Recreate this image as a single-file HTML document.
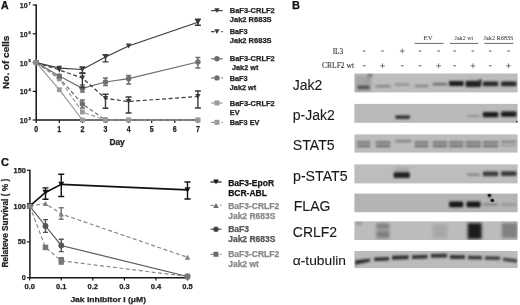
<!DOCTYPE html><html><head><meta charset="utf-8"><style>html,body{margin:0;padding:0;background:#fff;}svg{display:block;filter:grayscale(1);}</style></head><body>
<svg width="520" height="305" viewBox="0 0 520 305">
<rect width="520" height="305" fill="#fff"/>
<text x="1" y="9.2" font-size="10.5" font-weight="bold" fill="#111" text-anchor="start" font-family='"Liberation Sans", sans-serif' stroke="#111" stroke-width="0.25" >A</text>
<path d="M36.2,4.4 V120.0" stroke="#151515" stroke-width="1.5"/>
<path d="M32.7,5.0 H36.2" stroke="#151515" stroke-width="1.2"/>
<text x="27.6" y="7.9" font-size="8" font-weight="bold" fill="#222" text-anchor="end" font-family='"Liberation Sans", sans-serif' stroke="#222" stroke-width="0.25" textLength="7.8" lengthAdjust="spacingAndGlyphs" >10</text>
<text x="28.5" y="4.7" font-size="4.4" font-weight="bold" fill="#222" text-anchor="start" font-family='"Liberation Sans", sans-serif' stroke="#222" stroke-width="0.25" textLength="2.3" lengthAdjust="spacingAndGlyphs" >7</text>
<path d="M32.7,33.8 H36.2" stroke="#151515" stroke-width="1.2"/>
<text x="27.6" y="36.699999999999996" font-size="8" font-weight="bold" fill="#222" text-anchor="end" font-family='"Liberation Sans", sans-serif' stroke="#222" stroke-width="0.25" textLength="7.8" lengthAdjust="spacingAndGlyphs" >10</text>
<text x="28.5" y="33.5" font-size="4.4" font-weight="bold" fill="#222" text-anchor="start" font-family='"Liberation Sans", sans-serif' stroke="#222" stroke-width="0.25" textLength="2.3" lengthAdjust="spacingAndGlyphs" >6</text>
<path d="M32.7,62.6 H36.2" stroke="#151515" stroke-width="1.2"/>
<text x="27.6" y="65.5" font-size="8" font-weight="bold" fill="#222" text-anchor="end" font-family='"Liberation Sans", sans-serif' stroke="#222" stroke-width="0.25" textLength="7.8" lengthAdjust="spacingAndGlyphs" >10</text>
<text x="28.5" y="62.300000000000004" font-size="4.4" font-weight="bold" fill="#222" text-anchor="start" font-family='"Liberation Sans", sans-serif' stroke="#222" stroke-width="0.25" textLength="2.3" lengthAdjust="spacingAndGlyphs" >5</text>
<path d="M32.7,91.4 H36.2" stroke="#151515" stroke-width="1.2"/>
<text x="27.6" y="94.30000000000001" font-size="8" font-weight="bold" fill="#222" text-anchor="end" font-family='"Liberation Sans", sans-serif' stroke="#222" stroke-width="0.25" textLength="7.8" lengthAdjust="spacingAndGlyphs" >10</text>
<text x="28.5" y="91.10000000000001" font-size="4.4" font-weight="bold" fill="#222" text-anchor="start" font-family='"Liberation Sans", sans-serif' stroke="#222" stroke-width="0.25" textLength="2.3" lengthAdjust="spacingAndGlyphs" >4</text>
<path d="M32.7,120.0 H36.2" stroke="#151515" stroke-width="1.2"/>
<text x="27.6" y="122.9" font-size="8" font-weight="bold" fill="#222" text-anchor="end" font-family='"Liberation Sans", sans-serif' stroke="#222" stroke-width="0.25" textLength="7.8" lengthAdjust="spacingAndGlyphs" >10</text>
<text x="28.5" y="119.7" font-size="4.4" font-weight="bold" fill="#222" text-anchor="start" font-family='"Liberation Sans", sans-serif' stroke="#222" stroke-width="0.25" textLength="2.3" lengthAdjust="spacingAndGlyphs" >3</text>
<path d="M36.2,120.0 H198.90000000000003" stroke="#151515" stroke-width="1.5"/>
<path d="M36.20,120.0 V123.0" stroke="#151515" stroke-width="1.2"/>
<text x="36.2" y="132.3" font-size="8.6" font-weight="bold" fill="#222" text-anchor="middle" font-family='"Liberation Sans", sans-serif' stroke="#222" stroke-width="0.25" textLength="3.9" lengthAdjust="spacingAndGlyphs" >0</text>
<path d="M59.30,120.0 V123.0" stroke="#151515" stroke-width="1.2"/>
<text x="59.300000000000004" y="132.3" font-size="8.6" font-weight="bold" fill="#222" text-anchor="middle" font-family='"Liberation Sans", sans-serif' stroke="#222" stroke-width="0.25" textLength="3.9" lengthAdjust="spacingAndGlyphs" >1</text>
<path d="M82.40,120.0 V123.0" stroke="#151515" stroke-width="1.2"/>
<text x="82.4" y="132.3" font-size="8.6" font-weight="bold" fill="#222" text-anchor="middle" font-family='"Liberation Sans", sans-serif' stroke="#222" stroke-width="0.25" textLength="3.9" lengthAdjust="spacingAndGlyphs" >2</text>
<path d="M105.50,120.0 V123.0" stroke="#151515" stroke-width="1.2"/>
<text x="105.50000000000001" y="132.3" font-size="8.6" font-weight="bold" fill="#222" text-anchor="middle" font-family='"Liberation Sans", sans-serif' stroke="#222" stroke-width="0.25" textLength="3.9" lengthAdjust="spacingAndGlyphs" >3</text>
<path d="M128.60,120.0 V123.0" stroke="#151515" stroke-width="1.2"/>
<text x="128.60000000000002" y="132.3" font-size="8.6" font-weight="bold" fill="#222" text-anchor="middle" font-family='"Liberation Sans", sans-serif' stroke="#222" stroke-width="0.25" textLength="3.9" lengthAdjust="spacingAndGlyphs" >4</text>
<path d="M151.70,120.0 V123.0" stroke="#151515" stroke-width="1.2"/>
<text x="151.7" y="132.3" font-size="8.6" font-weight="bold" fill="#222" text-anchor="middle" font-family='"Liberation Sans", sans-serif' stroke="#222" stroke-width="0.25" textLength="3.9" lengthAdjust="spacingAndGlyphs" >5</text>
<path d="M174.80,120.0 V123.0" stroke="#151515" stroke-width="1.2"/>
<text x="174.8" y="132.3" font-size="8.6" font-weight="bold" fill="#222" text-anchor="middle" font-family='"Liberation Sans", sans-serif' stroke="#222" stroke-width="0.25" textLength="3.9" lengthAdjust="spacingAndGlyphs" >6</text>
<path d="M197.90,120.0 V123.0" stroke="#151515" stroke-width="1.2"/>
<text x="197.90000000000003" y="132.3" font-size="8.6" font-weight="bold" fill="#222" text-anchor="middle" font-family='"Liberation Sans", sans-serif' stroke="#222" stroke-width="0.25" textLength="3.9" lengthAdjust="spacingAndGlyphs" >7</text>
<text x="117.1" y="144.8" font-size="8.5" font-weight="bold" fill="#222" text-anchor="middle" font-family='"Liberation Sans", sans-serif' stroke="#222" stroke-width="0.25" textLength="15.4" lengthAdjust="spacingAndGlyphs" >Day</text>
<text x="0" y="0" font-size="9.5" font-weight="bold" fill="#222" text-anchor="start" font-family='"Liberation Sans", sans-serif' stroke="#222" stroke-width="0.25" textLength="53.2" lengthAdjust="spacingAndGlyphs" transform="translate(9.3,88.9) rotate(-90)">No. of cells</text>
<path d="M36.20,62.60 L59.30,78.00 L82.40,104.00 L105.50,120.00" fill="none" stroke="#6e6e6e" stroke-width="1.2" stroke-dasharray="4,2.5"/>
<path d="M82.40,100.00 V108.00 M79.90,100.00 H84.90 M79.90,108.00 H84.90" stroke="#6e6e6e" stroke-width="1.4" fill="none"/>
<circle cx="36.20" cy="62.60" r="2.75" fill="#6e6e6e"/>
<circle cx="59.30" cy="78.00" r="2.75" fill="#6e6e6e"/>
<circle cx="82.40" cy="104.00" r="2.75" fill="#6e6e6e"/>
<circle cx="105.50" cy="120.00" r="2.75" fill="#6e6e6e"/>
<path d="M36.20,62.60 L59.30,79.00 L82.40,112.00 L105.50,120.00 L128.60,120.00 L197.90,120.00" fill="none" stroke="#999999" stroke-width="1.2" stroke-dasharray="4,2.5"/>
<rect x="33.80" y="60.20" width="4.80" height="4.80" fill="#999999"/>
<rect x="56.90" y="76.60" width="4.80" height="4.80" fill="#999999"/>
<rect x="80.00" y="109.60" width="4.80" height="4.80" fill="#999999"/>
<rect x="103.10" y="117.60" width="4.80" height="4.80" fill="#999999"/>
<rect x="126.20" y="117.60" width="4.80" height="4.80" fill="#999999"/>
<rect x="195.50" y="117.60" width="4.80" height="4.80" fill="#999999"/>
<path d="M36.20,62.60 L59.30,89.70 L82.40,120.00 L105.50,120.00 L128.60,120.00 L197.90,120.00" fill="none" stroke="#999999" stroke-width="1.2"/>
<rect x="33.80" y="60.20" width="4.80" height="4.80" fill="#999999"/>
<rect x="56.90" y="87.30" width="4.80" height="4.80" fill="#999999"/>
<rect x="80.00" y="117.60" width="4.80" height="4.80" fill="#999999"/>
<rect x="103.10" y="117.60" width="4.80" height="4.80" fill="#999999"/>
<rect x="126.20" y="117.60" width="4.80" height="4.80" fill="#999999"/>
<rect x="195.50" y="117.60" width="4.80" height="4.80" fill="#999999"/>
<path d="M36.20,62.60 L59.30,76.00 L82.40,88.40 L105.50,82.00 L128.60,78.70 L197.90,62.00" fill="none" stroke="#6e6e6e" stroke-width="1.2"/>
<path d="M82.40,85.00 V92.00 M79.90,85.00 H84.90 M79.90,92.00 H84.90" stroke="#6e6e6e" stroke-width="1.4" fill="none"/>
<path d="M105.50,78.00 V85.50 M103.00,78.00 H108.00 M103.00,85.50 H108.00" stroke="#6e6e6e" stroke-width="1.4" fill="none"/>
<path d="M128.60,75.50 V84.00 M126.10,75.50 H131.10 M126.10,84.00 H131.10" stroke="#6e6e6e" stroke-width="1.4" fill="none"/>
<path d="M197.90,57.50 V68.00 M195.40,57.50 H200.40 M195.40,68.00 H200.40" stroke="#6e6e6e" stroke-width="1.4" fill="none"/>
<circle cx="36.20" cy="62.60" r="2.75" fill="#6e6e6e"/>
<circle cx="59.30" cy="76.00" r="2.75" fill="#6e6e6e"/>
<circle cx="82.40" cy="88.40" r="2.75" fill="#6e6e6e"/>
<circle cx="105.50" cy="82.00" r="2.75" fill="#6e6e6e"/>
<circle cx="128.60" cy="78.70" r="2.75" fill="#6e6e6e"/>
<circle cx="197.90" cy="62.00" r="2.75" fill="#6e6e6e"/>
<path d="M36.20,62.60 L59.30,70.00 L82.40,78.00 L105.50,98.50 L128.60,101.50 L197.90,96.50" fill="none" stroke="#3a3a3a" stroke-width="1.2" stroke-dasharray="4,2.5"/>
<path d="M82.40,73.00 V87.50 M79.40,73.00 H85.40 M79.40,87.50 H85.40" stroke="#3a3a3a" stroke-width="1.4" fill="none"/>
<path d="M105.50,94.20 V108.30 M102.50,94.20 H108.50 M102.50,108.30 H108.50" stroke="#3a3a3a" stroke-width="1.4" fill="none"/>
<path d="M128.60,97.00 V113.00 M125.60,97.00 H131.60 M125.60,113.00 H131.60" stroke="#3a3a3a" stroke-width="1.4" fill="none"/>
<path d="M197.90,91.00 V108.00 M194.90,91.00 H200.90 M194.90,108.00 H200.90" stroke="#3a3a3a" stroke-width="1.4" fill="none"/>
<path d="M33.50,60.17 L38.90,60.17 L36.20,65.03 Z" fill="#3a3a3a"/>
<path d="M56.60,67.57 L62.00,67.57 L59.30,72.43 Z" fill="#3a3a3a"/>
<path d="M79.70,75.57 L85.10,75.57 L82.40,80.43 Z" fill="#3a3a3a"/>
<path d="M102.80,96.07 L108.20,96.07 L105.50,100.93 Z" fill="#3a3a3a"/>
<path d="M125.90,99.07 L131.30,99.07 L128.60,103.93 Z" fill="#3a3a3a"/>
<path d="M195.20,94.07 L200.60,94.07 L197.90,98.93 Z" fill="#3a3a3a"/>
<path d="M36.20,62.60 L59.30,68.10 L82.40,69.50 L105.50,57.00 L128.60,46.00 L197.90,22.30" fill="none" stroke="#3a3a3a" stroke-width="1.2"/>
<path d="M82.40,67.00 V73.30 M79.40,67.00 H85.40 M79.40,73.30 H85.40" stroke="#3a3a3a" stroke-width="1.4" fill="none"/>
<path d="M105.50,54.70 V61.90 M102.50,54.70 H108.50 M102.50,61.90 H108.50" stroke="#3a3a3a" stroke-width="1.4" fill="none"/>
<path d="M197.90,19.20 V25.30 M194.90,19.20 H200.90 M194.90,25.30 H200.90" stroke="#3a3a3a" stroke-width="1.4" fill="none"/>
<path d="M33.50,60.17 L38.90,60.17 L36.20,65.03 Z" fill="#3a3a3a"/>
<path d="M56.60,65.67 L62.00,65.67 L59.30,70.53 Z" fill="#3a3a3a"/>
<path d="M79.70,67.07 L85.10,67.07 L82.40,71.93 Z" fill="#3a3a3a"/>
<path d="M102.80,54.57 L108.20,54.57 L105.50,59.43 Z" fill="#3a3a3a"/>
<path d="M125.90,43.57 L131.30,43.57 L128.60,48.43 Z" fill="#3a3a3a"/>
<path d="M195.20,19.87 L200.60,19.87 L197.90,24.73 Z" fill="#3a3a3a"/>
<rect x="33.60" y="60.00" width="5.20" height="5.20" fill="#8a8a8a"/>
<path d="M211.2,10.6 H222.7" stroke="#3a3a3a" stroke-width="1.2"/>
<path d="M214.35,8.26 L219.55,8.26 L216.95,12.94 Z" fill="#3a3a3a"/>
<text x="229.8" y="13.1" font-size="7.3" font-weight="bold" fill="#222" text-anchor="start" font-family='"Liberation Sans", sans-serif' stroke="#222" stroke-width="0.25" textLength="44.9" lengthAdjust="spacingAndGlyphs" >BaF3-CRLF2</text>
<text x="229.8" y="22.1" font-size="7.3" font-weight="bold" fill="#222" text-anchor="start" font-family='"Liberation Sans", sans-serif' stroke="#222" stroke-width="0.25" textLength="41.8" lengthAdjust="spacingAndGlyphs" >Jak2 R683S</text>
<path d="M211.2,31.6 H214.6 M221.29999999999998,31.6 H222.7" stroke="#3a3a3a" stroke-width="1.2"/>
<path d="M214.35,29.26 L219.55,29.26 L216.95,33.94 Z" fill="#3a3a3a"/>
<text x="229.8" y="33.5" font-size="7.3" font-weight="bold" fill="#222" text-anchor="start" font-family='"Liberation Sans", sans-serif' stroke="#222" stroke-width="0.25" >BaF3</text>
<text x="229.8" y="42.7" font-size="7.3" font-weight="bold" fill="#222" text-anchor="start" font-family='"Liberation Sans", sans-serif' stroke="#222" stroke-width="0.25" textLength="41.8" lengthAdjust="spacingAndGlyphs" >Jak2 R683S</text>
<path d="M211.2,58.8 H222.7" stroke="#6e6e6e" stroke-width="1.2"/>
<circle cx="216.95" cy="58.80" r="2.70" fill="#6e6e6e"/>
<text x="229.8" y="61.1" font-size="7.3" font-weight="bold" fill="#222" text-anchor="start" font-family='"Liberation Sans", sans-serif' stroke="#222" stroke-width="0.25" textLength="44.9" lengthAdjust="spacingAndGlyphs" >BaF3-CRLF2</text>
<text x="232.0" y="70.4" font-size="7.3" font-weight="bold" fill="#222" text-anchor="start" font-family='"Liberation Sans", sans-serif' stroke="#222" stroke-width="0.25" >Jak2 wt</text>
<path d="M211.2,77.9 H214.6 M221.29999999999998,77.9 H222.7" stroke="#6e6e6e" stroke-width="1.2"/>
<circle cx="216.95" cy="77.90" r="2.70" fill="#6e6e6e"/>
<text x="229.8" y="80.5" font-size="7.3" font-weight="bold" fill="#222" text-anchor="start" font-family='"Liberation Sans", sans-serif' stroke="#222" stroke-width="0.25" >BaF3</text>
<text x="229.8" y="89.8" font-size="7.3" font-weight="bold" fill="#222" text-anchor="start" font-family='"Liberation Sans", sans-serif' stroke="#222" stroke-width="0.25" >Jak2 wt</text>
<path d="M211.2,103 H222.7" stroke="#999999" stroke-width="1.2"/>
<rect x="214.45" y="100.50" width="5.00" height="5.00" fill="#999999"/>
<text x="229.8" y="105.6" font-size="7.3" font-weight="bold" fill="#222" text-anchor="start" font-family='"Liberation Sans", sans-serif' stroke="#222" stroke-width="0.25" textLength="44.9" lengthAdjust="spacingAndGlyphs" >BaF3-CRLF2</text>
<text x="229.8" y="115.1" font-size="7.3" font-weight="bold" fill="#222" text-anchor="start" font-family='"Liberation Sans", sans-serif' stroke="#222" stroke-width="0.25" >EV</text>
<path d="M211.2,122.3 H214.6 M221.29999999999998,122.3 H222.7" stroke="#999999" stroke-width="1.2"/>
<rect x="214.45" y="119.80" width="5.00" height="5.00" fill="#999999"/>
<text x="229.8" y="125.1" font-size="7.3" font-weight="bold" fill="#222" text-anchor="start" font-family='"Liberation Sans", sans-serif' stroke="#222" stroke-width="0.25" >BaF3 EV</text>
<text x="1" y="166.4" font-size="11" font-weight="bold" fill="#111" text-anchor="start" font-family='"Liberation Sans", sans-serif' stroke="#111" stroke-width="0.25" >C</text>
<path d="M29.9,169.64 V277.7" stroke="#151515" stroke-width="1.5"/>
<path d="M26.9,277.70 H29.9" stroke="#151515" stroke-width="1.2"/>
<text x="25.8" y="280.2" font-size="7.3" font-weight="bold" fill="#222" text-anchor="end" font-family='"Liberation Sans", sans-serif' stroke="#222" stroke-width="0.25" >0</text>
<path d="M26.9,241.88 H29.9" stroke="#151515" stroke-width="1.2"/>
<text x="25.8" y="244.38" font-size="7.3" font-weight="bold" fill="#222" text-anchor="end" font-family='"Liberation Sans", sans-serif' stroke="#222" stroke-width="0.25" >50</text>
<path d="M26.9,206.06 H29.9" stroke="#151515" stroke-width="1.2"/>
<text x="25.8" y="208.56" font-size="7.3" font-weight="bold" fill="#222" text-anchor="end" font-family='"Liberation Sans", sans-serif' stroke="#222" stroke-width="0.25" >100</text>
<path d="M26.9,170.24 H29.9" stroke="#151515" stroke-width="1.2"/>
<text x="25.8" y="172.73999999999998" font-size="7.3" font-weight="bold" fill="#222" text-anchor="end" font-family='"Liberation Sans", sans-serif' stroke="#222" stroke-width="0.25" >150</text>
<path d="M29.9,277.7 H188.0" stroke="#151515" stroke-width="1.5"/>
<path d="M29.70,277.7 V280.5" stroke="#151515" stroke-width="1.2"/>
<text x="29.7" y="289.3" font-size="7.5" font-weight="bold" fill="#222" text-anchor="middle" font-family='"Liberation Sans", sans-serif' stroke="#222" stroke-width="0.25" >0.0</text>
<path d="M61.26,277.7 V280.5" stroke="#151515" stroke-width="1.2"/>
<text x="61.260000000000005" y="289.3" font-size="7.5" font-weight="bold" fill="#222" text-anchor="middle" font-family='"Liberation Sans", sans-serif' stroke="#222" stroke-width="0.25" >0.1</text>
<path d="M92.82,277.7 V280.5" stroke="#151515" stroke-width="1.2"/>
<text x="92.82000000000001" y="289.3" font-size="7.5" font-weight="bold" fill="#222" text-anchor="middle" font-family='"Liberation Sans", sans-serif' stroke="#222" stroke-width="0.25" >0.2</text>
<path d="M124.38,277.7 V280.5" stroke="#151515" stroke-width="1.2"/>
<text x="124.38000000000001" y="289.3" font-size="7.5" font-weight="bold" fill="#222" text-anchor="middle" font-family='"Liberation Sans", sans-serif' stroke="#222" stroke-width="0.25" >0.3</text>
<path d="M155.94,277.7 V280.5" stroke="#151515" stroke-width="1.2"/>
<text x="155.94" y="289.3" font-size="7.5" font-weight="bold" fill="#222" text-anchor="middle" font-family='"Liberation Sans", sans-serif' stroke="#222" stroke-width="0.25" >0.4</text>
<path d="M187.50,277.7 V280.5" stroke="#151515" stroke-width="1.2"/>
<text x="187.5" y="289.3" font-size="7.5" font-weight="bold" fill="#222" text-anchor="middle" font-family='"Liberation Sans", sans-serif' stroke="#222" stroke-width="0.25" >0.5</text>
<text x="70.4" y="301.7" font-size="8" font-weight="bold" fill="#222" text-anchor="start" font-family='"Liberation Sans", sans-serif' stroke="#222" stroke-width="0.25" textLength="75.6" lengthAdjust="spacingAndGlyphs" >Jak Inhibitor I (μM)</text>
<text x="0" y="0" font-size="8.2" font-weight="bold" fill="#222" text-anchor="start" font-family='"Liberation Sans", sans-serif' stroke="#222" stroke-width="0.25" textLength="88.6" lengthAdjust="spacingAndGlyphs" transform="translate(8.2,267.4) rotate(-90)">Relateve Survival ( % )</text>
<path d="M29.70,206.06 L45.48,226.00 L61.26,245.50 L187.50,276.50" fill="none" stroke="#555" stroke-width="1.2"/>
<path d="M45.48,219.60 V232.40 M42.98,219.60 H47.98 M42.98,232.40 H47.98" stroke="#555" stroke-width="1.4" fill="none"/>
<path d="M61.26,239.20 V251.60 M58.76,239.20 H63.76 M58.76,251.60 H63.76" stroke="#555" stroke-width="1.4" fill="none"/>
<circle cx="29.70" cy="206.06" r="2.90" fill="#555"/>
<circle cx="45.48" cy="226.00" r="2.90" fill="#555"/>
<circle cx="61.26" cy="245.50" r="2.90" fill="#555"/>
<circle cx="187.50" cy="276.50" r="2.90" fill="#555"/>
<path d="M29.70,206.06 L45.48,247.40 L61.26,260.80 L187.50,276.50" fill="none" stroke="#8a8a8a" stroke-width="1.2" stroke-dasharray="4,2.5"/>
<path d="M61.26,257.80 V264.00 M58.76,257.80 H63.76 M58.76,264.00 H63.76" stroke="#666" stroke-width="1.4" fill="none"/>
<rect x="26.95" y="203.31" width="5.50" height="5.50" fill="#777"/>
<rect x="42.73" y="244.65" width="5.50" height="5.50" fill="#777"/>
<rect x="58.51" y="258.05" width="5.50" height="5.50" fill="#777"/>
<rect x="184.75" y="273.75" width="5.50" height="5.50" fill="#777"/>
<path d="M29.70,206.06 L45.48,203.50 L61.26,214.00 L187.50,257.30" fill="none" stroke="#8a8a8a" stroke-width="1.2" stroke-dasharray="4,2.5"/>
<path d="M61.26,207.70 V219.20 M58.76,207.70 H63.76 M58.76,219.20 H63.76" stroke="#777" stroke-width="1.4" fill="none"/>
<path d="M26.95,208.53 L32.45,208.53 L29.70,203.59 Z" fill="#808080"/>
<path d="M42.73,205.97 L48.23,205.97 L45.48,201.03 Z" fill="#808080"/>
<path d="M58.51,216.47 L64.01,216.47 L61.26,211.53 Z" fill="#808080"/>
<path d="M184.75,259.78 L190.25,259.78 L187.50,254.83 Z" fill="#808080"/>
<path d="M29.70,206.06 L45.48,192.50 L61.26,184.40 L187.50,189.90" fill="none" stroke="#111" stroke-width="1.6"/>
<path d="M45.48,187.90 V199.30 M42.48,187.90 H48.48 M42.48,199.30 H48.48" stroke="#111" stroke-width="1.4" fill="none"/>
<path d="M61.26,174.20 V196.50 M58.26,174.20 H64.26 M58.26,196.50 H64.26" stroke="#111" stroke-width="1.4" fill="none"/>
<path d="M187.50,182.00 V199.00 M184.50,182.00 H190.50 M184.50,199.00 H190.50" stroke="#111" stroke-width="1.4" fill="none"/>
<path d="M26.70,203.36 L32.70,203.36 L29.70,208.76 Z" fill="#111"/>
<path d="M42.48,189.80 L48.48,189.80 L45.48,195.20 Z" fill="#111"/>
<path d="M58.26,181.70 L64.26,181.70 L61.26,187.10 Z" fill="#111"/>
<path d="M184.50,187.20 L190.50,187.20 L187.50,192.60 Z" fill="#111"/>
<rect x="27.45" y="203.81" width="4.50" height="4.50" fill="#888"/>
<path d="M210.5,182 H221.5" stroke="#111" stroke-width="1.2"/>
<path d="M213.25,179.53 L218.75,179.53 L216.00,184.47 Z" fill="#111"/>
<text x="228.2" y="185.5" font-size="8.5" font-weight="bold" fill="#111" text-anchor="start" font-family='"Liberation Sans", sans-serif' stroke="#111" stroke-width="0.25" textLength="45.9" lengthAdjust="spacingAndGlyphs" >BaF3-EpoR</text>
<text x="228.2" y="195.6" font-size="8.5" font-weight="bold" fill="#111" text-anchor="start" font-family='"Liberation Sans", sans-serif' stroke="#111" stroke-width="0.25" >BCR-ABL</text>
<path d="M210.5,205.4 H213.9 M220.1,205.4 H221.5" stroke="#8a8a8a" stroke-width="1.2"/>
<path d="M213.25,207.88 L218.75,207.88 L216.00,202.93 Z" fill="#6a6a6a"/>
<text x="228.2" y="208.5" font-size="8.5" font-weight="bold" fill="#888" text-anchor="start" font-family='"Liberation Sans", sans-serif' stroke="#888" stroke-width="0.25" >BaF3-CRLF2</text>
<text x="228.2" y="218.5" font-size="8.5" font-weight="bold" fill="#888" text-anchor="start" font-family='"Liberation Sans", sans-serif' stroke="#888" stroke-width="0.25" >Jak2 R683S</text>
<path d="M210.5,229.2 H221.5" stroke="#555" stroke-width="1.2"/>
<circle cx="216.00" cy="229.20" r="2.70" fill="#444"/>
<text x="228.2" y="232.2" font-size="8.5" font-weight="bold" fill="#555" text-anchor="start" font-family='"Liberation Sans", sans-serif' stroke="#555" stroke-width="0.25" >BaF3</text>
<text x="228.2" y="242.2" font-size="8.5" font-weight="bold" fill="#555" text-anchor="start" font-family='"Liberation Sans", sans-serif' stroke="#555" stroke-width="0.25" >Jak2 R683S</text>
<path d="M210.5,254.3 H213.9 M220.1,254.3 H221.5" stroke="#8a8a8a" stroke-width="1.2"/>
<rect x="213.50" y="251.80" width="5.00" height="5.00" fill="#6a6a6a"/>
<text x="228.2" y="257.2" font-size="8.5" font-weight="bold" fill="#888" text-anchor="start" font-family='"Liberation Sans", sans-serif' stroke="#888" stroke-width="0.25" >BaF3-CRLF2</text>
<text x="228.2" y="267.2" font-size="8.5" font-weight="bold" fill="#888" text-anchor="start" font-family='"Liberation Sans", sans-serif' stroke="#888" stroke-width="0.25" >Jak2 wt</text>
<text x="292" y="9.3" font-size="11" font-weight="bold" fill="#111" text-anchor="start" font-family='"Liberation Sans", sans-serif' stroke="#111" stroke-width="0.25" >B</text>
<text x="428.1" y="40.0" font-size="6.8" font-weight="normal" fill="#444" text-anchor="middle" font-family='"Liberation Serif", serif' stroke="#444" stroke-width="0.05" >EV</text>
<text x="463.9" y="40.0" font-size="6.8" font-weight="normal" fill="#444" text-anchor="middle" font-family='"Liberation Serif", serif' stroke="#444" stroke-width="0.05" textLength="18.6" lengthAdjust="spacingAndGlyphs" >Jak2 wt</text>
<text x="498.6" y="40.0" font-size="6.8" font-weight="normal" fill="#444" text-anchor="middle" font-family='"Liberation Serif", serif' stroke="#444" stroke-width="0.05" textLength="30" lengthAdjust="spacingAndGlyphs" >Jak2 R683S</text>
<path d="M414.6,43.4 H443.5" stroke="#666" stroke-width="1"/>
<path d="M449.8,43.4 H478.3" stroke="#666" stroke-width="1"/>
<path d="M484.4,43.4 H513.3" stroke="#666" stroke-width="1"/>
<text x="343.2" y="53.6" font-size="7.3" font-weight="normal" fill="#333" text-anchor="end" font-family='"Liberation Serif", serif' stroke="#333" stroke-width="0.1" >IL3</text>
<text x="354" y="68" font-size="7.3" font-weight="normal" fill="#333" text-anchor="end" font-family='"Liberation Serif", serif' stroke="#333" stroke-width="0.1" textLength="32" lengthAdjust="spacingAndGlyphs" >CRLF2 wt</text>
<path d="M362.9,51.0 H365.5" stroke="#5a5a5a" stroke-width="1.0"/>
<path d="M362.9,65.8 H365.5" stroke="#5a5a5a" stroke-width="1.0"/>
<path d="M381.2,51.0 H383.8" stroke="#5a5a5a" stroke-width="1.0"/>
<path d="M380.1,65.8 H384.9 M382.5,63.4 V68.2" stroke="#5a5a5a" stroke-width="0.8"/>
<path d="M399.8,51.0 H404.59999999999997 M402.2,48.6 V53.4" stroke="#5a5a5a" stroke-width="0.8"/>
<path d="M400.9,65.8 H403.5" stroke="#5a5a5a" stroke-width="1.0"/>
<path d="M418.59999999999997,51.0 H421.2" stroke="#5a5a5a" stroke-width="1.0"/>
<path d="M418.59999999999997,65.8 H421.2" stroke="#5a5a5a" stroke-width="1.0"/>
<path d="M437.3,51.0 H439.90000000000003" stroke="#5a5a5a" stroke-width="1.0"/>
<path d="M436.20000000000005,65.8 H441.0 M438.6,63.4 V68.2" stroke="#5a5a5a" stroke-width="0.8"/>
<path d="M453.3,51.0 H455.90000000000003" stroke="#5a5a5a" stroke-width="1.0"/>
<path d="M453.3,65.8 H455.90000000000003" stroke="#5a5a5a" stroke-width="1.0"/>
<path d="M471.59999999999997,51.0 H474.2" stroke="#5a5a5a" stroke-width="1.0"/>
<path d="M470.5,65.8 H475.29999999999995 M472.9,63.4 V68.2" stroke="#5a5a5a" stroke-width="0.8"/>
<path d="M488.9,51.0 H491.5" stroke="#5a5a5a" stroke-width="1.0"/>
<path d="M488.9,65.8 H491.5" stroke="#5a5a5a" stroke-width="1.0"/>
<path d="M507.2,51.0 H509.8" stroke="#5a5a5a" stroke-width="1.0"/>
<path d="M506.1,65.8 H510.9 M508.5,63.4 V68.2" stroke="#5a5a5a" stroke-width="0.8"/>
<text x="292.8" y="89.6" font-size="14" font-weight="normal" fill="#1a1a1a" text-anchor="start" font-family='"Liberation Sans", sans-serif' stroke="#1a1a1a" stroke-width="0.1" >Jak2</text>
<text x="292.8" y="120.2" font-size="14" font-weight="normal" fill="#1a1a1a" text-anchor="start" font-family='"Liberation Sans", sans-serif' stroke="#1a1a1a" stroke-width="0.1" >p-Jak2</text>
<text x="292.8" y="150.0" font-size="14" font-weight="normal" fill="#1a1a1a" text-anchor="start" font-family='"Liberation Sans", sans-serif' stroke="#1a1a1a" stroke-width="0.1" textLength="41.8" lengthAdjust="spacingAndGlyphs" >STAT5</text>
<text x="293.0" y="181.0" font-size="14" font-weight="normal" fill="#1a1a1a" text-anchor="start" font-family='"Liberation Sans", sans-serif' stroke="#1a1a1a" stroke-width="0.1" textLength="54.6" lengthAdjust="spacingAndGlyphs" >p-STAT5</text>
<text x="293.8" y="210.6" font-size="14" font-weight="normal" fill="#1a1a1a" text-anchor="start" font-family='"Liberation Sans", sans-serif' stroke="#1a1a1a" stroke-width="0.1" textLength="36.6" lengthAdjust="spacingAndGlyphs" >FLAG</text>
<text x="292.8" y="237.1" font-size="14" font-weight="normal" fill="#1a1a1a" text-anchor="start" font-family='"Liberation Sans", sans-serif' stroke="#1a1a1a" stroke-width="0.1" >CRLF2</text>
<text x="292.8" y="264.8" font-size="13" font-weight="normal" fill="#1a1a1a" text-anchor="start" font-family='"Liberation Sans", sans-serif' stroke="#1a1a1a" stroke-width="0.1" textLength="53.2" lengthAdjust="spacingAndGlyphs" >α-tubulin</text>
<defs><filter id="bl" x="-30%" y="-80%" width="160%" height="260%"><feGaussianBlur stdDeviation="1.0"/></filter><filter id="bl2" x="-30%" y="-50%" width="160%" height="200%"><feGaussianBlur stdDeviation="1.5"/></filter><filter id="bl3" x="-30%" y="-50%" width="160%" height="200%"><feGaussianBlur stdDeviation="2.5"/></filter></defs>
<rect x="354.4" y="73.5" width="163.2" height="18.9" fill="#bdbdbd"/>
<rect x="354.4" y="103.9" width="163.2" height="18.9" fill="#bababa"/>
<rect x="354.4" y="134.4" width="163.2" height="18.2" fill="#bcbcbc"/>
<rect x="354.4" y="164.4" width="163.2" height="19.0" fill="#bdbdbd"/>
<rect x="354.4" y="193.6" width="163.2" height="18.6" fill="#b4b4b4"/>
<rect x="354.4" y="221.3" width="163.2" height="18.7" fill="#bcbcbc"/>
<rect x="354.4" y="251.0" width="163.2" height="17.1" fill="#bbbbbb"/>
<clipPath id="stripclip"><rect x="354.4" y="73.5" width="163.2" height="18.9"/><rect x="354.4" y="103.9" width="163.2" height="18.9"/><rect x="354.4" y="134.4" width="163.2" height="18.2"/><rect x="354.4" y="164.4" width="163.2" height="19.0"/><rect x="354.4" y="193.6" width="163.2" height="18.6"/><rect x="354.4" y="221.3" width="163.2" height="18.7"/><rect x="354.4" y="251.0" width="163.2" height="17.1"/></clipPath>
<g clip-path="url(#stripclip)">
<rect x="355.5" y="75" width="16.00" height="16.50" fill="#a4a4a4" filter="url(#bl)" opacity="0.9"/>
<path d="M368,73.6 L372.5,73.6 L371.5,77 L367.5,77 Z" fill="#7a7a7a" filter="url(#bl)"/>
<path d="M368,76 L371,76 L367,84 L364.5,84 Z" fill="#999" filter="url(#bl)" opacity="0.7"/>
<rect x="357.5" y="85.50" width="12.00" height="3.8" rx="1.30" fill="#555" filter="url(#bl)" opacity="1"/>
<rect x="375.5" y="85.00" width="15.00" height="2.6" rx="1.30" fill="#858585" filter="url(#bl)" opacity="1"/>
<rect x="394.5" y="83.20" width="15.00" height="2.6" rx="1.30" fill="#919191" filter="url(#bl)" opacity="1"/>
<rect x="414.5" y="84.70" width="14.00" height="2.6" rx="1.30" fill="#858585" filter="url(#bl)" opacity="1"/>
<rect x="432.6" y="82.80" width="14.70" height="2.8" rx="1.30" fill="#727272" filter="url(#bl)" opacity="1"/>
<rect x="449" y="81.10" width="14.70" height="5.0" rx="1.30" fill="#1e1e1e" filter="url(#bl)" opacity="1"/>
<rect x="465.5" y="80.80" width="15.50" height="6.2" rx="1.30" fill="#222" filter="url(#bl)" opacity="1"/>
<path d="M478.5,81 L481,78.5 L481.5,81.5 L480,84 Z" fill="#333" filter="url(#bl)"/>
<rect x="482.8" y="81.40" width="15.50" height="4.8" rx="1.30" fill="#262626" filter="url(#bl)" opacity="1"/>
<rect x="501" y="81.40" width="15.50" height="4.8" rx="1.30" fill="#262626" filter="url(#bl)" opacity="1"/>
<rect x="395.3" y="115.30" width="14.70" height="3.8" rx="1.30" fill="#383838" filter="url(#bl)" opacity="1"/>
<rect x="467" y="115.00" width="13.00" height="2" rx="1.00" fill="#8e8e8e" filter="url(#bl)" opacity="1"/>
<rect x="482.8" y="112.00" width="15.50" height="5.2" rx="1.30" fill="#1a1a1a" filter="url(#bl)" opacity="1"/>
<rect x="501" y="111.60" width="15.50" height="5.2" rx="1.30" fill="#1a1a1a" filter="url(#bl)" opacity="1"/>
<rect x="516" y="121" width="2" height="1.5" fill="#333"/>
<rect x="357" y="141.20" width="13.50" height="2.4" rx="1.20" fill="#6c6c6c" filter="url(#bl)" opacity="1"/>
<rect x="357" y="144.80" width="13.50" height="2.4" rx="1.20" fill="#6c6c6c" filter="url(#bl)" opacity="1"/>
<rect x="375.5" y="141.20" width="15.00" height="2.4" rx="1.20" fill="#6c6c6c" filter="url(#bl)" opacity="1"/>
<rect x="375.5" y="144.80" width="15.00" height="2.4" rx="1.20" fill="#6c6c6c" filter="url(#bl)" opacity="1"/>
<rect x="414.5" y="141.20" width="14.00" height="2.4" rx="1.20" fill="#6c6c6c" filter="url(#bl)" opacity="1"/>
<rect x="414.5" y="144.80" width="14.00" height="2.4" rx="1.20" fill="#6c6c6c" filter="url(#bl)" opacity="1"/>
<rect x="432.6" y="141.20" width="14.70" height="2.4" rx="1.20" fill="#6c6c6c" filter="url(#bl)" opacity="1"/>
<rect x="432.6" y="144.80" width="14.70" height="2.4" rx="1.20" fill="#6c6c6c" filter="url(#bl)" opacity="1"/>
<rect x="449" y="141.20" width="14.70" height="2.4" rx="1.20" fill="#6c6c6c" filter="url(#bl)" opacity="1"/>
<rect x="449" y="144.80" width="14.70" height="2.4" rx="1.20" fill="#6c6c6c" filter="url(#bl)" opacity="1"/>
<rect x="465.5" y="141.20" width="15.50" height="2.4" rx="1.20" fill="#6c6c6c" filter="url(#bl)" opacity="1"/>
<rect x="465.5" y="144.80" width="15.50" height="2.4" rx="1.20" fill="#6c6c6c" filter="url(#bl)" opacity="1"/>
<rect x="482.8" y="141.20" width="15.50" height="2.4" rx="1.20" fill="#6c6c6c" filter="url(#bl)" opacity="1"/>
<rect x="482.8" y="144.80" width="15.50" height="2.4" rx="1.20" fill="#6c6c6c" filter="url(#bl)" opacity="1"/>
<rect x="395.3" y="140.10" width="16.10" height="2.2" rx="1.10" fill="#7e7e7e" filter="url(#bl)" opacity="1"/>
<rect x="501" y="140.85" width="15.50" height="1.9" rx="0.95" fill="#7e7e7e" filter="url(#bl)" opacity="1"/>
<rect x="501" y="144.55" width="15.50" height="1.7" rx="0.85" fill="#959595" filter="url(#bl)" opacity="1"/>
<rect x="395" y="167.5" width="14.00" height="5.50" fill="#a8a8a8" filter="url(#bl2)" opacity="1"/>
<rect x="393.6" y="172.20" width="16.20" height="5.8" rx="1.30" fill="#202020" filter="url(#bl)" opacity="1"/>
<rect x="467" y="173.40" width="13.00" height="2.6" rx="1.30" fill="#888" filter="url(#bl)" opacity="1"/>
<rect x="482.8" y="171.60" width="15.50" height="4.6" rx="1.30" fill="#3c3c3c" filter="url(#bl)" opacity="1"/>
<rect x="501" y="171.30" width="15.50" height="4.6" rx="1.30" fill="#3a3a3a" filter="url(#bl)" opacity="1"/>
<rect x="449.2" y="201.50" width="14.00" height="5.8" rx="1.30" fill="#131313" filter="url(#bl)" opacity="1"/>
<rect x="466.5" y="201.50" width="14.00" height="5.8" rx="1.30" fill="#131313" filter="url(#bl)" opacity="1"/>
<rect x="482.8" y="203.40" width="15.50" height="2.2" rx="1.10" fill="#7e7e7e" filter="url(#bl)" opacity="1"/>
<rect x="501" y="203.60" width="15.50" height="2.0" rx="1.00" fill="#8e8e8e" filter="url(#bl)" opacity="1"/>
<path d="M487.6,193.8 L491.2,194.2 L490.2,197.2 L488.6,197 Z" fill="#111" filter="url(#bl)" opacity="0.9"/>
<ellipse cx="489.4" cy="195.4" rx="1.5" ry="1.4" fill="#111"/>
<ellipse cx="492.3" cy="200.4" rx="1.9" ry="1.6" fill="#111"/>
<path d="M490,197 L492,198.5 L491,199.5 L489.5,198 Z" fill="#777" filter="url(#bl)"/>
<rect x="376" y="223.5" width="13.50" height="15.50" fill="#9a9a9a" filter="url(#bl2)" opacity="1"/>
<rect x="377" y="224" width="12.00" height="4.00" fill="#808080" filter="url(#bl2)" opacity="1"/>
<rect x="377" y="232" width="12.00" height="5.00" fill="#7a7a7a" filter="url(#bl2)" opacity="1"/>
<rect x="356" y="222" width="6.00" height="3.00" fill="#999" filter="url(#bl)" opacity="1"/>
<rect x="432.6" y="224" width="14.70" height="14.00" fill="#a8a8a8" filter="url(#bl2)" opacity="1"/>
<rect x="467.7" y="223" width="13.90" height="16.00" fill="#1c1c1c" filter="url(#bl2)" opacity="1"/>
<rect x="501.8" y="223" width="15.60" height="15.00" fill="#808080" filter="url(#bl2)" opacity="1"/>
<path d="M355.2,260.20 L370.2,258.40 L370.2,261.40 L355.2,265.00 Z" fill="#303030" filter="url(#bl)"/>
<path d="M374.2,257.50 L389.0,257.00 L389.0,260.60 L374.2,261.30 Z" fill="#333" filter="url(#bl)"/>
<path d="M392,255.85 L408.6,255.35 L408.6,259.25 L392,259.75 Z" fill="#333" filter="url(#bl)"/>
<path d="M412,255.30 L427.5,254.80 L427.5,258.60 L412,259.10 Z" fill="#353535" filter="url(#bl)"/>
<path d="M431,253.90 L447,253.70 L447,257.50 L431,257.70 Z" fill="#333" filter="url(#bl)"/>
<path d="M450,255.10 L465,255.30 L465,259.10 L450,258.90 Z" fill="#353535" filter="url(#bl)"/>
<path d="M468,255.70 L482,255.90 L482,259.50 L468,259.30 Z" fill="#383838" filter="url(#bl)"/>
<path d="M485,256.30 L500,256.50 L500,259.90 L485,259.70 Z" fill="#404040" filter="url(#bl)"/>
<path d="M503,257.50 L517,259.20 L517,262.80 L503,260.90 Z" fill="#444" filter="url(#bl)"/>
</g>
</svg></body></html>
